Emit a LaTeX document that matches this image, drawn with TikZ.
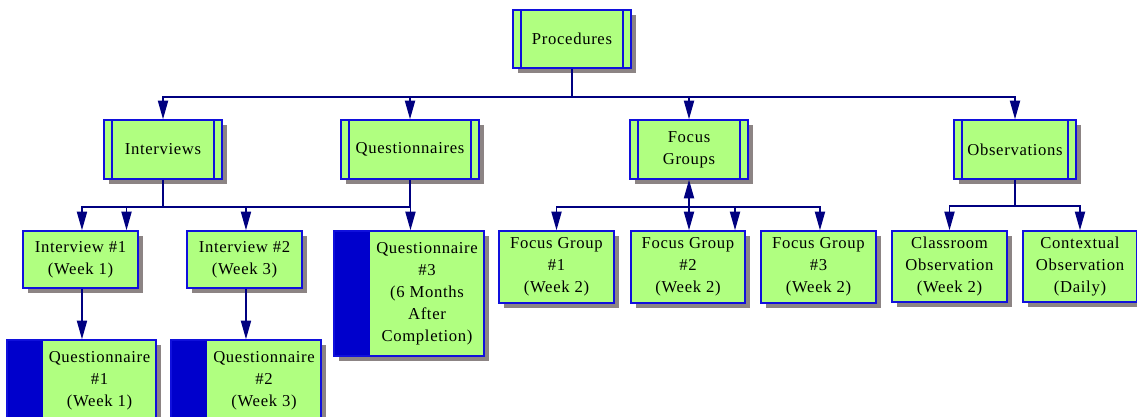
\documentclass[tikz,border=0pt]{standalone}
\usepackage{fontspec}
\setmainfont{Liberation Serif}[LetterSpace=4]
\usetikzlibrary{shadows,arrows.meta}
\definecolor{boxgreen}{RGB}{176,255,128}
\definecolor{bordblue}{RGB}{16,16,220}
\definecolor{blockblue}{RGB}{0,0,204}
\definecolor{navy}{RGB}{0,0,128}
\definecolor{shadowc}{RGB}{140,132,132}
\begin{document}
\begin{tikzpicture}[x=0.75pt,y=-0.75pt,
  base/.style={draw=bordblue, fill=boxgreen, line width=1pt, inner sep=0pt,
    font=\fontsize{12.5}{16.5}\selectfont,
    drop shadow={shadow xshift=3.75pt, shadow yshift=-3.75pt, fill=shadowc, opacity=1}},
  box/.style={base, align=center},
  wh/.style 2 args={minimum width=#1*0.75pt, minimum height=#2*0.75pt},
  dbl/.style={box, path picture={
      \draw[bordblue, line width=1pt]
        ([xshift=6pt]path picture bounding box.north west) -- ([xshift=6pt]path picture bounding box.south west)
        ([xshift=-6pt]path picture bounding box.north east) -- ([xshift=-6pt]path picture bounding box.south east);}},
  blk/.style={base, path picture={
      \fill[blockblue] (path picture bounding box.north west) rectangle ([xshift=27pt]path picture bounding box.south west);}},
  conn/.style={draw=navy, line width=1.4pt},
  arr/.style={-{Triangle[length=14pt,width=7.5pt,fill=navy]}}
]
\useasboundingbox (0,0) rectangle (1137,417);

% top level
\node[dbl, wh={118}{58}] (proc) at (572,39) {Procedures};
\node[dbl, wh={118}{59}] (intv) at (163,149.5) {Interviews};
\node[dbl, wh={138}{59}] (quest) at (410,149.5) {Questionnaires};
\node[dbl, wh={118}{59}] (focus) at (689,149.5) {Focus\\Groups};
\node[dbl, wh={122}{59}] (obs) at (1015,149.5) {Observations};

% second level
\node[box, wh={115}{57}] (i1) at (80.5,259.5) {Interview \#1\\(Week 1)};
\node[box, wh={115}{57}] (i2) at (244.5,259.5) {Interview \#2\\(Week 3)};
\node[blk, wh={150}{125}] (q3) at (409,293.5)
  {\kern27pt\begin{tabular}{@{}c@{}}Questionnaire\\\#3\\(6 Months\\After\\Completion)\end{tabular}};
\node[box, wh={115}{72}] (fg1) at (556.5,267) {Focus Group\\\#1\\(Week 2)};
\node[box, wh={114}{72}] (fg2) at (688,267) {Focus Group\\\#2\\(Week 2)};
\node[box, wh={115}{72}] (fg3) at (818.5,267) {Focus Group\\\#3\\(Week 2)};
\node[box, wh={115}{71}] (cls) at (949.5,266.5) {Classroom\\Observation\\(Week 2)};
\node[box, wh={114}{71}] (ctx) at (1080,266.5) {Contextual\\Observation\\(Daily)};

% third level
\node[blk, wh={149}{80}] (q1) at (81.5,380)
  {\kern27pt\begin{tabular}{@{}c@{}}Questionnaire\\\#1\\(Week 1)\end{tabular}};
\node[blk, wh={150}{80}] (q2) at (246,380)
  {\kern27pt\begin{tabular}{@{}c@{}}Questionnaire\\\#2\\(Week 3)\end{tabular}};

% connectors: procedures
\draw[conn] (proc.south) -- ++(0,28) coordinate (pj);
\foreach \t in {intv,quest,focus,obs}
  \draw[conn,arr] (pj) -| (\t.north);

% interviews / questionnaires
\draw[conn] (intv.south) -- ++(0,27) coordinate (ij);
\draw[conn] (quest.south) |- (ij);
\draw[conn,arr] (ij) -| ([xshift=1.1pt]i1.north);
\draw[conn,arr] (ij) -| ([xshift=34.5pt]i1.north);
\draw[conn,arr] (ij) -| ([xshift=1.1pt]i2.north);
\draw[conn,arr] (ij) -| ([xshift=1.1pt]q3.north);
\draw[conn,arr] ([xshift=1.1pt]i1.south) -- ([xshift=1.1pt]i1.south |- q1.north);
\draw[conn,arr] ([xshift=1.1pt]i2.south) -- ([xshift=1.1pt]i2.south |- q2.north);

% focus groups
\path (focus.south) ++(0,27) coordinate (fj);
\draw[conn,arr] (fj) -- (focus.south);
\draw[conn,arr] (fj) -| (fg1.north);
\draw[conn,arr] (fj) -- (fj |- fg2.north);
\draw[conn,arr] (fj) -| ([xshift=35.25pt]fg2.north);
\draw[conn,arr] (fj) -| ([xshift=1.1pt]fg3.north);

% observations
\draw[conn] (obs.south) -- ++(0,26) coordinate (oj);
\draw[conn,arr] (oj) -| (cls.north);
\draw[conn,arr] (oj) -| (ctx.north);
\end{tikzpicture}
\end{document}
